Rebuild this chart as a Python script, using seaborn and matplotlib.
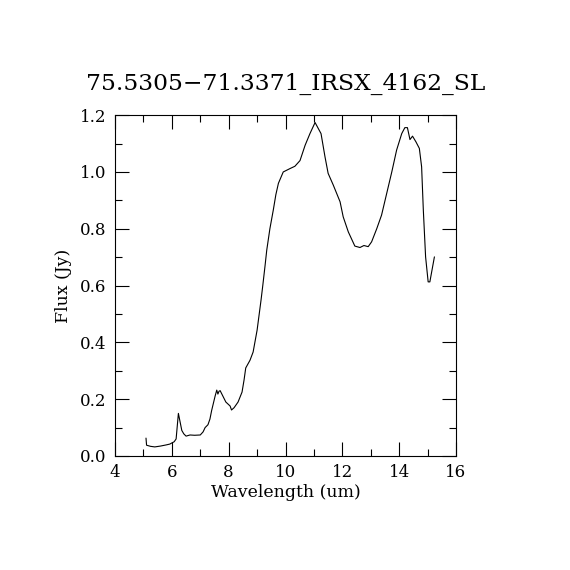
import pandas as pd
import matplotlib
matplotlib.use("Agg")
import matplotlib.pyplot as plt
from matplotlib.ticker import MultipleLocator
import seaborn as sns

# spectrum
wavelength = [5.09, 5.11, 5.25, 5.40, 5.60, 5.80, 5.93, 6.00, 6.08, 6.15, 6.23,
              6.29, 6.35, 6.42, 6.50, 6.64, 6.80, 7.00, 7.10, 7.17, 7.27, 7.34,
              7.40, 7.46, 7.52, 7.58, 7.62, 7.66, 7.70, 7.80, 7.90, 8.05, 8.10,
              8.19, 8.33, 8.47, 8.54, 8.60, 8.75, 8.86, 9.00, 9.14, 9.20, 9.28,
              9.34, 9.45, 9.57, 9.66, 9.75, 9.92, 10.16, 10.33, 10.51, 10.69,
              10.86, 11.04, 11.25, 11.39, 11.50, 11.68, 11.92, 12.03, 12.21,
              12.44, 12.62, 12.76, 12.91, 13.03, 13.21, 13.38, 13.56, 13.74,
              13.91, 14.09, 14.20, 14.29, 14.38, 14.47, 14.59, 14.71, 14.79,
              14.85, 14.93, 15.02, 15.08, 15.24]
flux = [0.063, 0.038, 0.034, 0.032, 0.035, 0.039, 0.042, 0.046, 0.050, 0.060, 0.150,
        0.120, 0.090, 0.078, 0.070, 0.074, 0.073, 0.074, 0.085, 0.100, 0.110, 0.130,
        0.160, 0.185, 0.210, 0.232, 0.218, 0.228, 0.230, 0.210, 0.190, 0.176, 0.162,
        0.170, 0.190, 0.225, 0.267, 0.310, 0.337, 0.366, 0.443, 0.550, 0.600, 0.670,
        0.725, 0.800, 0.866, 0.920, 0.960, 1.000, 1.012, 1.020, 1.040, 1.094,
        1.135, 1.174, 1.135, 1.053, 0.995, 0.954, 0.895, 0.842, 0.789,
        0.739, 0.734, 0.741, 0.737, 0.754, 0.800, 0.848, 0.924, 1.000,
        1.077, 1.135, 1.156, 1.156, 1.114, 1.126, 1.106, 1.083, 1.018,
        0.866, 0.701, 0.613, 0.613, 0.701]

title = "75.5305\u221271.3371_IRSX_4162_SL"

sns.set_style("ticks")
plt.rcParams["font.family"] = ["DejaVu Serif", "DejaVu Sans"]
plt.rcParams["text.color"] = "black"
plt.rcParams["axes.labelcolor"] = "black"

df = pd.DataFrame({"wavelength": wavelength, "flux": flux})

fig = plt.figure(figsize=(5.7, 5.7), dpi=100)
ax = fig.add_axes([0.2018, 0.2, 0.5982, 0.598])
sns.lineplot(data=df, x="wavelength", y="flux", sort=False, color="black",
             linewidth=0.8, ax=ax)

ax.set_xlim(4, 16)
ax.set_ylim(0, 1.2)
ax.xaxis.set_major_locator(MultipleLocator(2))
ax.xaxis.set_minor_locator(MultipleLocator(1))
ax.yaxis.set_major_locator(MultipleLocator(0.2))
ax.yaxis.set_minor_locator(MultipleLocator(0.1))
ax.yaxis.set_major_formatter(plt.FuncFormatter(lambda v, p: f"{v:.1f}"))
ax.tick_params(which="both", direction="in", top=True, right=True,
               width=0.8, colors="black", labelsize=12)
ax.tick_params(which="major", length=10, pad=6)
ax.tick_params(which="minor", length=5)
for s in ax.spines.values():
    s.set_linewidth(0.8)
    s.set_color("black")

ax.set_xlabel("Wavelength (um)", fontsize=12.5, labelpad=2, color="black")
ax.set_ylabel("Flux (Jy)", fontsize=12.5, labelpad=6, color="black")
ax.set_title(title, fontsize=16.8, pad=18, color="black")

fig.savefig("out.png", dpi=100, facecolor="white")
